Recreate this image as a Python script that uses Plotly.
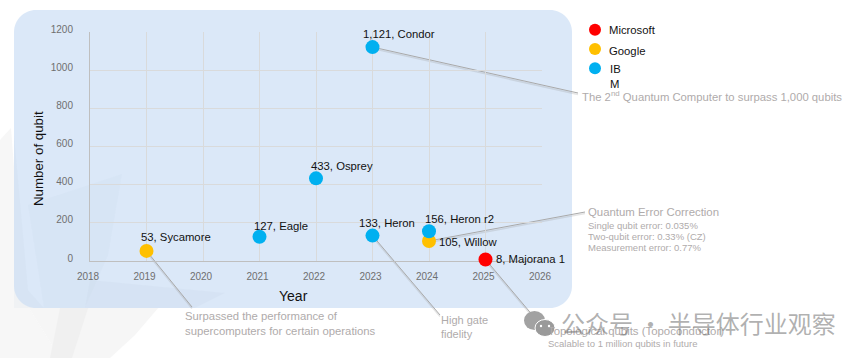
import plotly.graph_objects as go

W, H = 864, 358
PL, PR, PT, PB = 90.0, 542.0, 32.0, 261.0

# ---- data ----
ibm_years = [2021, 2022, 2023, 2023, 2024]
ibm_qubits = [127, 433, 1121, 133, 156]
ibm_names = ["127, Eagle", "433, Osprey", "1,121, Condor", "133, Heron", "156, Heron r2"]
google_years = [2019, 2024]
google_qubits = [53, 105]
google_names = ["53, Sycamore", "105, Willow"]
ms_years = [2025]
ms_qubits = [8]
ms_names = ["8, Majorana 1"]
legend_names = ["Microsoft", "Google", "IBM"]
year_ticks = list(range(2018, 2027))
qubit_ticks = list(range(0, 1201, 200))

BLUE, GOLD, RED = "#00B0F0", "#FFC000", "#FF0000"
GREY = "#AFABAB"
FONT = "Liberation Sans, Arial, sans-serif"


def fx(px):
    return px / W


def fy(py):
    return 1 - py / H


def dx(year):
    return PL + (year - 2018) * (PR - PL) / 8


def dy(q):
    return PB - q * (PB - PT) / 1200


def poly(points, fill, layer="below"):
    path = "M " + " L ".join(f"{fx(x):.5f},{fy(y):.5f}" for x, y in points) + " Z"
    return dict(type="path", xref="paper", yref="paper", path=path, fillcolor=fill,
                line=dict(width=0), layer=layer)


def rounded(x0, y0, x1, y1, r):
    k = r * 0.45
    seg = [
        f"M {fx(x0 + r)},{fy(y0)}", f"L {fx(x1 - r)},{fy(y0)}",
        f"C {fx(x1 - k)},{fy(y0)} {fx(x1)},{fy(y0 + k)} {fx(x1)},{fy(y0 + r)}",
        f"L {fx(x1)},{fy(y1 - r)}",
        f"C {fx(x1)},{fy(y1 - k)} {fx(x1 - k)},{fy(y1)} {fx(x1 - r)},{fy(y1)}",
        f"L {fx(x0 + r)},{fy(y1)}",
        f"C {fx(x0 + k)},{fy(y1)} {fx(x0)},{fy(y1 - k)} {fx(x0)},{fy(y1 - r)}",
        f"L {fx(x0)},{fy(y0 + r)}",
        f"C {fx(x0)},{fy(y0 + k)} {fx(x0 + k)},{fy(y0)} {fx(x0 + r)},{fy(y0)} Z",
    ]
    return dict(type="path", xref="paper", yref="paper", path=" ".join(seg),
                fillcolor="#DBE8F8", line=dict(width=0), layer="below")


def leader(year, q, x1, y1):
    x0, y0 = dx(year), dy(q)
    out = []
    out.append(dict(type="line", xref="paper", yref="paper", x0=fx(x0), y0=fy(y0 + 1.5),
                    x1=fx(x1), y1=fy(y1 + 1.5), line=dict(color="rgba(150,150,150,0.25)", width=1.5),
                    layer="between"))
    out.append(dict(type="line", xref="paper", yref="paper", x0=fx(x0), y0=fy(y0),
                    x1=fx(x1), y1=fy(y1), line=dict(color="#A9A9A9", width=1), layer="between"))
    return out


def note(px, py, text, size, color=GREY, anchor="left", **kw):
    return dict(xref="paper", yref="paper", x=fx(px), y=fy(py), text=text, showarrow=False,
                xanchor=anchor, yanchor="middle", align="left",
                font=dict(family=kw.pop("family", FONT), size=size, color=color), **kw)


def bubble(cx, cy, rx, ry, fill, edge=0):
    return dict(type="circle", xref="paper", yref="paper", x0=fx(cx - rx), x1=fx(cx + rx),
                y0=fy(cy + ry), y1=fy(cy - ry), fillcolor=fill,
                line=dict(width=edge, color="white"), layer="above")


fig = go.Figure()
for name, xs, ys, col in [("Microsoft", ms_years, ms_qubits, RED),
                          ("Google", google_years, google_qubits, GOLD),
                          ("IBM", ibm_years, ibm_qubits, BLUE)]:
    fig.add_trace(go.Scatter(x=xs, y=ys, mode="markers", name=name, showlegend=False,
                             cliponaxis=False,
                             marker=dict(size=14, color=col, line=dict(width=0))))

# legend markers on their own hidden axes
fig.add_trace(go.Scatter(x=[0, 0, 0], y=legend_names, mode="markers", xaxis="x2", yaxis="y2",
                         showlegend=False, cliponaxis=False,
                         marker=dict(size=12, color=[RED, GOLD, BLUE], line=dict(width=0))))

shapes = [
    poly([(0, 140), (11, 128), (24, 300), (60, 358), (0, 358)], "#F7F7F7"),
    poly([(24, 300), (165, 300), (135, 335), (110, 358), (60, 358)], "#F6F6F6"),
    poly([(60, 308), (92, 296), (72, 358), (50, 358)], "#F0F0F0"),
    rounded(14, 10, 572, 308, 22),
    poly([(14, 135), (28, 290), (44, 308), (14, 308)], "rgba(190,205,225,0.12)"),
    poly([(28, 205), (122, 174), (108, 255), (85, 308), (44, 308)], "rgba(190,205,225,0.10)"),
    poly([(90, 280), (225, 293), (195, 308), (85, 308)], "rgba(190,205,225,0.16)"),
]
shapes += leader(2023, 1121, 578, 93)
shapes += leader(2019, 53, 192, 307)
shapes += leader(2023, 133, 440, 315)
shapes += leader(2024, 105, 585, 212)
shapes += leader(2025, 8, 545, 330)
shapes += [bubble(534.5, 320.5, 10.5, 9.5, "#A2A2A2"),
           bubble(545, 328, 10, 8.5, "#9A9A9A", edge=1),
           bubble(541, 326, 1.2, 1.2, "white"),
           bubble(549, 326, 1.2, 1.2, "white")]

ann = []
label_place = {
    "127, Eagle": (-8, 11), "433, Osprey": (-7, 12), "1,121, Condor": (-12, 13),
    "133, Heron": (-16, 13), "156, Heron r2": (-6, 12), "53, Sycamore": (-8, 14),
    "105, Willow": (8, -1), "8, Majorana 1": (8, 0),
}
for xs, ys, names in [(ibm_years, ibm_qubits, ibm_names),
                      (google_years, google_qubits, google_names),
                      (ms_years, ms_qubits, ms_names)]:
    for x, y, n in zip(xs, ys, names):
        sx, sy = label_place[n]
        ann.append(dict(x=x, y=y, xref="x", yref="y", text=n, showarrow=False, xanchor="left",
                        yanchor="middle", xshift=sx, yshift=sy,
                        font=dict(family=FONT, size=11.3, color="#111111")))

ann += [
    note(39, 159, "Number of qubit", 13.3, "#111111", anchor="center", textangle=-90),
    note(293, 296, "Year", 14, "#111111", anchor="center"),
    note(607, 30, "Microsoft", 11.3, "#111111"),
    note(607, 50.5, "Google", 11.3, "#111111"),
    note(608, 76, "IB<br>M", 11.3, "#111111"),
    note(580, 96, "The 2<sup>nd</sup> Quantum Computer to surpass 1,000 qubits", 11.3),
    note(183, 323.5, "Surpassed the performance of<br>supercomputers for certain operations", 11.3),
    note(439, 327, "High gate<br>fidelity", 11),
    note(586, 212, "Quantum Error Correction", 11.4),
    note(586, 225, "Single qubit error: 0.035%", 9.5),
    note(586, 236, "Two-qubit error: 0.33% (CZ)", 9.5),
    note(586, 247, "Measurement error: 0.77%", 9.5),
    note(546, 331, "Topological qubits (Topoconductor)", 11.4),
    note(546, 343, "Scalable to 1 million qubits in future", 9.5),
    note(559, 322, "公众号 · 半导体行业观察", 24, "rgba(110,110,110,0.55)",
         family="Noto Sans CJK SC"),
]

fig.update_layout(
    width=W, height=H, margin=dict(l=0, r=0, t=0, b=0, autoexpand=False), autosize=False,
    paper_bgcolor="white", plot_bgcolor="rgba(0,0,0,0)", showlegend=False,
    font=dict(family=FONT),
    shapes=shapes, annotations=ann,
    xaxis=dict(domain=[fx(PL), fx(PR)], range=[2018, 2026], tickvals=year_ticks, automargin=False,
               showgrid=True, gridcolor="#D9DADB", gridwidth=1, zeroline=False,
               showline=True, linecolor="#BFBFBF", linewidth=1, ticks="", layer="below traces",
               tickfont=dict(size=10, color="#6F6F6F", family=FONT),
               ticklabelshift=-2, ticklabelstandoff=6),
    yaxis=dict(domain=[fy(PB), fy(PT)], range=[0, 1200], tickvals=qubit_ticks, automargin=False,
               showgrid=True, gridcolor="#D9DADB", gridwidth=1, zeroline=False,
               showline=True, linecolor="#BFBFBF", linewidth=1, ticks="", layer="below traces",
               tickfont=dict(size=10, color="#6F6F6F", family=FONT),
               ticklabelshift=-3, ticklabelstandoff=14),
    xaxis2=dict(domain=[fx(585), fx(605)], range=[-1, 1], visible=False, anchor="y2", fixedrange=True,
                automargin=False),
    yaxis2=dict(domain=[fy(78), fy(20)], type="category", categoryorder="array",
                categoryarray=legend_names[::-1], range=[-0.5, 2.5], visible=False, anchor="x2",
                fixedrange=True, automargin=False),
)
fig.write_html("out.html", config={"displayModeBar": False},
               post_script="document.body.style.margin='0';document.body.style.overflow='hidden';")
